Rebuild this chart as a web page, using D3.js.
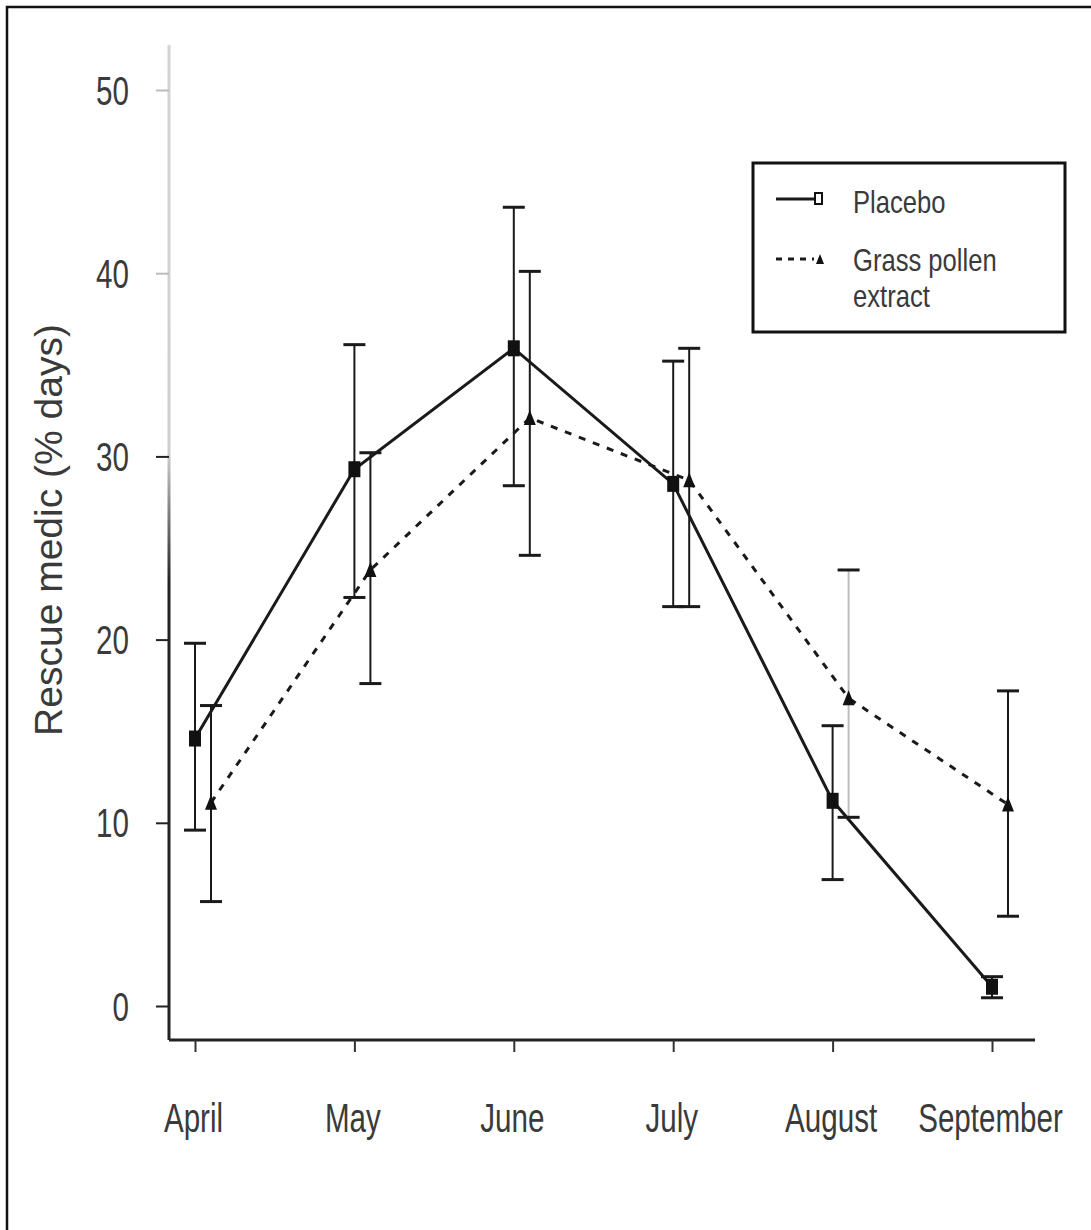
<!DOCTYPE html>
<html>
<head>
<meta charset="utf-8">
<script src="https://cdn.jsdelivr.net/npm/d3@7"></script>
<style>
  body { margin: 0; background: #fff; }
  svg { display: block; }
  text { font-family: "Liberation Sans", Arial, sans-serif; fill: #3a3a3a; }
</style>
</head>
<body>
<div id="chart"></div>
<script>
// data
const months = ["April", "May", "June", "July", "August", "September"];
const placeboMean = [14.6, 29.3, 35.9, 28.5, 11.2, 1.05];
const placeboLow  = [9.6, 22.3, 28.4, 21.8, 6.9, 0.45];
const placeboHigh = [19.8, 36.1, 43.6, 35.2, 15.3, 1.6];
const grassMean = [11.1, 23.8, 32.1, 28.7, 16.8, 11.0];
const grassLow  = [5.7, 17.6, 24.6, 21.8, 10.3, 4.9];
const grassHigh = [16.4, 30.2, 40.1, 35.9, 23.8, 17.2];
const yTicks = [0, 10, 20, 30, 40, 50];
const yLabel = "Rescue medic (% days)";
const legendLabels = ["Placebo", ["Grass pollen", "extract"]];

const width = 1091, height = 1230;
const axisX = 169, axisY = 1040;

const svg = d3.select("#chart").append("svg")
    .attr("width", width).attr("height", height);

// scan frame: only the top and left edges show
svg.append("path")
    .attr("d", `M7,${height}V7H${width}`)
    .attr("fill", "none").attr("stroke", "#111").attr("stroke-width", 2.5);

// scales
const x = d3.scalePoint().domain(months).range([195, 992]);
const y = d3.scaleLinear().domain([0, 50]).range([1006, 90]);
const grassOffset = 16;

// y axis line fades out towards the top (as in the scanned figure)
const grad = svg.append("defs").append("linearGradient")
    .attr("id", "yfade").attr("gradientUnits", "userSpaceOnUse")
    .attr("x1", 0).attr("x2", 0).attr("y1", 45).attr("y2", axisY);
grad.append("stop").attr("offset", 0).attr("stop-color", "#d4d4d4");
grad.append("stop").attr("offset", 0.41).attr("stop-color", "#cfcfcf");
grad.append("stop").attr("offset", 0.54).attr("stop-color", "#222");
grad.append("stop").attr("offset", 1).attr("stop-color", "#222");

svg.append("line")
    .attr("x1", axisX).attr("x2", axisX).attr("y1", 45).attr("y2", axisY)
    .attr("stroke", "url(#yfade)").attr("stroke-width", 3);

const yAxis = svg.append("g")
    .attr("transform", `translate(${axisX},0)`)
    .call(d3.axisLeft(y).tickValues(yTicks).tickSize(13).tickSizeOuter(0));
yAxis.select(".domain").remove();
yAxis.selectAll(".tick line")
    .attr("stroke", d => d >= 40 ? "#bbb" : "#222").attr("stroke-width", 2);
yAxis.selectAll(".tick text")
    .attr("x", 0).attr("dy", "0.35em")
    .attr("transform", "translate(-40,0) scale(0.74,1)")
    .attr("font-size", 40).attr("fill", "#444")
    .attr("font-family", "Liberation Sans, Arial, sans-serif");

// x axis
const xAxis = svg.append("g")
    .attr("transform", `translate(0,${axisY})`)
    .call(d3.axisBottom(x).tickSize(12).tickSizeOuter(0));
xAxis.select(".domain")
    .attr("d", `M${axisX},0H1035`).attr("stroke", "#222").attr("stroke-width", 3);
xAxis.selectAll(".tick line").attr("stroke", "#333").attr("stroke-width", 2);
xAxis.selectAll(".tick text")
    .attr("y", 92).attr("dy", null)
    .attr("transform", "translate(-2,0) scale(0.74,1)")
    .attr("font-size", 40).attr("fill", "#444")
    .attr("font-family", "Liberation Sans, Arial, sans-serif");

// y label
svg.append("text")
    .attr("transform", "translate(62,530) rotate(-90)")
    .attr("text-anchor", "middle")
    .attr("font-size", 39)
    .attr("fill", "#444")
    .text(yLabel);

// series
const series = [
    { key: "placebo", mean: placeboMean, low: placeboLow, high: placeboHigh, dx: 0, dash: null },
    { key: "grass", mean: grassMean, low: grassLow, high: grassHigh, dx: grassOffset, dash: "7,8" }
];

series.forEach(s => {
    const g = svg.append("g");
    const px = i => x(months[i]) + s.dx;
    // the August grass bar is printed faintly in the original
    const barColor = i => (s.key === "grass" && months[i] === "August") ? "#bdbdbd" : "#1a1a1a";

    // error bars
    const bars = g.selectAll(".eb").data(months).join("g");
    bars.append("line")
        .attr("x1", (d, i) => px(i)).attr("x2", (d, i) => px(i))
        .attr("y1", (d, i) => y(s.high[i])).attr("y2", (d, i) => y(s.low[i]))
        .attr("stroke", (d, i) => barColor(i)).attr("stroke-width", 2);
    [s.high, s.low].forEach(arr => {
        bars.append("line")
            .attr("x1", (d, i) => px(i) - 11).attr("x2", (d, i) => px(i) + 11)
            .attr("y1", (d, i) => y(arr[i])).attr("y2", (d, i) => y(arr[i]))
            .attr("stroke", "#1a1a1a").attr("stroke-width", 3);
    });

    // connecting line
    g.append("path")
        .datum(s.mean)
        .attr("fill", "none")
        .attr("stroke", "#1a1a1a")
        .attr("stroke-width", 3)
        .attr("stroke-dasharray", s.dash)
        .attr("d", d3.line().x((d, i) => px(i)).y(d => y(d)));

    // markers
    if (s.key === "placebo") {
        g.selectAll(".m").data(s.mean).join("rect")
            .attr("x", (d, i) => px(i) - 6).attr("y", d => y(d) - 8)
            .attr("width", 12).attr("height", 16)
            .attr("fill", "#111");
    } else {
        g.selectAll(".m").data(s.mean).join("path")
            .attr("transform", (d, i) => `translate(${px(i)},${y(d)})`)
            .attr("d", "M0,-8L6,7L-6,7Z")
            .attr("fill", "#111");
    }
});

// legend
const legend = svg.append("g");
legend.append("rect")
    .attr("x", 753).attr("y", 163).attr("width", 312).attr("height", 169)
    .attr("fill", "#fff").attr("stroke", "#111").attr("stroke-width", 3);

legend.append("line")
    .attr("x1", 776).attr("x2", 815).attr("y1", 199).attr("y2", 199)
    .attr("stroke", "#1a1a1a").attr("stroke-width", 3);
legend.append("rect")
    .attr("x", 815).attr("y", 193).attr("width", 7).attr("height", 11)
    .attr("fill", "#fff").attr("stroke", "#111").attr("stroke-width", 2);
legend.append("line")
    .attr("x1", 776).attr("x2", 814).attr("y1", 259).attr("y2", 259)
    .attr("stroke", "#1a1a1a").attr("stroke-width", 3).attr("stroke-dasharray", "6,6");
legend.append("path")
    .attr("transform", "translate(820,259)")
    .attr("d", "M0,-5L4,5L-4,5Z").attr("fill", "#111");

legend.append("text")
    .attr("transform", "translate(853,213) scale(0.8,1)")
    .attr("font-size", 32).attr("fill", "#444").text(legendLabels[0]);
legendLabels[1].forEach((t, i) => {
    legend.append("text")
        .attr("transform", `translate(853,${271 + i * 36}) scale(0.8,1)`)
        .attr("font-size", 32).attr("fill", "#444").text(t);
});
</script>
</body>
</html>
